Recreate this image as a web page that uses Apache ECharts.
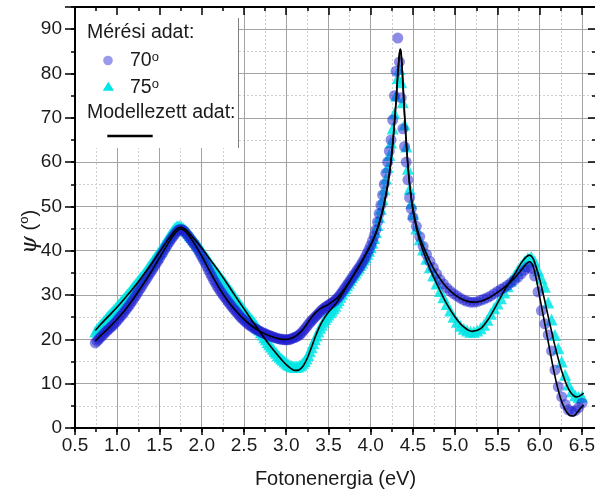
<!DOCTYPE html>
<html><head><meta charset="utf-8">
<script src="https://cdn.jsdelivr.net/npm/echarts@6/dist/echarts.min.js"></script>
<style>html,body{margin:0;padding:0;background:#fff}#c{width:595px;height:496px}</style>
</head><body><div id="c"></div>
<script>
// Measured photon energies (eV)
const energy = [
  0.74,0.76,0.78,0.80,0.82,0.84,0.86,0.88,0.90,0.92,0.94,0.96,0.98,
  1.00,1.02,1.04,1.06,1.08,1.10,1.12,1.14,1.16,1.18,1.20,1.22,1.24,1.26,1.28,
  1.30,1.32,1.34,1.36,1.38,1.40,1.42,1.44,1.46,1.48,1.50,1.52,1.54,1.56,1.58,
  1.60,1.62,1.64,1.66,1.68,1.70,1.72,1.74,1.76,1.78,1.80,1.82,1.84,1.86,1.88,
  1.90,1.92,1.94,1.96,1.98,2.00,2.02,2.04,2.06,2.08,2.10,2.12,2.14,2.16,2.18,
  2.20,2.22,2.24,2.26,2.28,2.30,2.32,2.34,2.36,2.38,2.40,2.42,2.44,2.46,2.48,
  2.50,2.52,2.54,2.56,2.58,2.60,2.62,2.64,2.66,2.68,2.70,2.72,2.74,2.76,2.78,
  2.80,2.82,2.84,2.86,2.88,2.90,2.92,2.94,2.96,2.98,3.00,3.02,3.04,3.06,3.08,
  3.10,3.12,3.14,3.16,3.18,3.20,3.22,3.24,3.26,3.28,3.30,3.32,3.34,3.36,3.38,
  3.40,3.42,3.44,3.46,3.48,3.50,3.52,3.54,3.56,3.58,3.60,3.62,3.64,3.66,3.68,
  3.70,3.72,3.74,3.76,3.78,3.80,3.82,3.84,3.86,3.88,3.90,3.92,3.94,3.96,3.98,
  4.00,4.02,4.04,4.06,4.08,4.10,4.12,4.14,4.16,4.18,
  4.20,4.22,4.24,4.26,4.28,4.30,4.32,4.34,4.36,4.38,
  4.40,4.42,4.44,4.46,4.48,4.50,
  4.54,4.58,4.62,4.66,4.70,4.74,4.78,4.82,4.86,4.90,
  4.94,4.98,5.02,5.06,5.10,5.14,5.18,5.22,5.26,5.30,
  5.34,5.38,5.42,5.46,5.50,5.54,5.58,5.62,5.66,5.70,
  5.74,5.78,5.82,5.86,5.90,5.94,5.98,6.02,6.06,6.10,
  6.14,6.18,6.22,6.26,6.30,6.34,6.38,6.42,6.46,6.50
];
// Measured psi at 70 degrees
const psi70 = [
  19.2,19.6,20.0,20.4,20.8,21.2,21.6,22.0,22.3,22.7,23.0,23.4,23.8,
  24.3,24.7,25.2,25.6,26.1,26.6,27.1,27.6,28.2,28.7,29.3,29.9,30.5,31.1,31.7,
  32.3,32.9,33.5,34.1,34.7,35.3,35.9,36.5,37.1,37.7,38.3,39.0,39.6,40.3,40.9,
  41.5,42.1,42.7,43.2,43.7,44.2,44.6,44.8,44.8,44.6,44.3,43.8,43.3,42.8,42.3,
  41.8,41.3,40.7,40.1,39.4,38.7,38.0,37.3,36.5,35.7,34.9,34.2,33.4,32.8,32.1,
  31.5,30.9,30.4,29.8,29.3,28.8,28.3,27.8,27.3,26.8,26.4,25.9,25.5,25.0,24.7,
  24.3,24.0,23.6,23.3,23.0,22.8,22.5,22.3,22.1,21.9,21.7,21.5,21.3,21.2,21.0,
  20.9,20.7,20.6,20.4,20.3,20.2,20.1,20.0,20.0,19.9,19.9,19.9,20.0,20.1,20.3,
  20.4,20.6,20.8,21.1,21.4,21.9,22.3,22.8,23.3,23.8,24.2,24.6,25.0,25.4,25.8,
  26.2,26.6,26.9,27.2,27.5,27.7,28.0,28.2,28.5,28.8,29.2,29.6,30.1,30.6,31.2,
  31.7,32.3,32.8,33.4,33.9,34.5,35.0,35.6,36.1,36.7,37.3,38.0,38.7,39.5,40.3,
  41.2,42.2,43.3,44.7,46.5,48.4,50.3,52.6,55.0,57.5,
  60.0,62.5,65.0,69.5,75.0,80.5,88.0,82.6,74.5,67.5,
  63.5,60.0,56.0,52.0,49.5,47.5,
  45.5,43.2,41.0,39.2,37.6,36.2,34.8,33.5,32.5,31.6,
  30.9,30.3,29.8,29.3,28.9,28.6,28.4,28.4,28.5,28.8,
  29.1,29.4,29.8,30.3,30.8,31.3,31.7,32.2,32.8,33.4,
  34.0,34.8,35.6,36.3,36.0,34.3,30.7,26.5,23.5,21.0,
  17.4,13.1,9.3,7.0,5.3,4.1,3.7,3.9,4.6,5.6
];
// Measured psi at 75 degrees
const psi75 = [
  21.8,22.3,22.7,23.2,23.6,24.1,24.5,25.0,25.4,25.8,26.2,26.6,27.0,
  27.5,27.9,28.4,28.8,29.3,29.7,30.2,30.6,31.1,31.6,32.1,32.5,33.0,33.5,34.0,
  34.4,35.0,35.5,36.1,36.6,37.2,37.7,38.3,38.8,39.4,39.9,40.5,41.1,41.7,42.3,
  42.9,43.5,44.1,44.6,45.1,45.4,45.5,45.5,45.4,45.1,44.8,44.4,44.0,43.5,43.1,
  42.6,42.1,41.6,41.1,40.6,40.1,39.5,39.0,38.4,37.9,37.3,36.8,36.2,35.7,35.2,
  34.7,34.2,33.7,33.2,32.7,32.1,31.6,31.0,30.5,29.9,29.4,28.8,28.3,27.7,27.2,
  26.7,26.2,25.7,25.2,24.7,24.3,23.8,23.3,22.7,22.2,21.6,21.1,20.5,20.0,19.4,
  18.9,18.4,17.9,17.4,17.0,16.5,16.1,15.7,15.4,15.0,14.7,14.4,14.2,14.0,13.9,
  13.8,13.8,13.9,14.1,14.3,14.7,15.1,15.7,16.4,17.3,18.2,19.1,20.0,20.9,21.8,
  22.6,23.3,24.0,24.6,25.1,25.6,26.1,26.5,27.1,27.6,28.3,28.9,29.6,30.3,31.0,
  31.6,32.2,32.8,33.4,34.0,34.6,35.1,35.7,36.2,36.8,37.3,38.0,38.6,39.3,40.0,
  40.8,41.8,42.9,44.2,45.8,47.6,49.5,51.6,53.9,56.3,
  58.9,61.6,64.4,67.6,71.0,75.0,79.0,81.0,78.0,73.5,
  68.5,63.5,58.5,54.0,50.8,48.3,
  45.0,42.6,40.3,38.2,36.3,34.4,32.6,30.9,29.5,28.0,
  26.5,25.1,24.0,23.1,22.4,22.0,21.7,21.7,22.0,22.5,
  23.3,24.4,25.8,27.0,28.1,29.3,30.6,32.0,33.2,34.4,
  35.6,36.6,37.6,38.3,38.6,37.6,35.6,33.8,31.9,28.3,
  24.5,21.0,18.0,15.0,12.0,9.8,8.3,7.4,7.0,7.1
];
// Model curve energies (eV)
const modelEnergy = [
  0.74,0.80,0.90,1.00,1.10,1.20,1.30,1.40,1.50,1.60,
  1.65,1.70,1.75,1.80,1.85,1.90,2.00,2.10,2.20,2.30,
  2.40,2.50,2.60,2.70,2.80,2.90,2.95,3.00,3.05,3.10,
  3.15,3.20,3.25,3.30,3.35,3.40,3.45,3.50,3.60,3.70,
  3.80,3.90,4.00,4.05,4.10,4.15,4.20,4.24,4.27,4.30,
  4.32,4.34,4.35,4.36,4.38,4.40,4.43,4.46,4.50,4.55,
  4.60,4.70,4.80,4.90,5.00,5.10,5.20,5.30,5.40,5.50,
  5.60,5.70,5.78,5.84,5.88,5.92,5.96,6.00,6.05,6.10,
  6.15,6.20,6.25,6.30,6.35,6.40,6.44,6.48,6.52
];
const model70 = [
  19.6,20.8,22.6,24.6,26.8,29.4,32.2,35.2,38.4,41.6,
  43.1,44.3,44.9,44.5,43.4,42.0,38.8,35.2,31.8,28.9,
  26.5,24.5,22.9,21.7,20.8,20.2,20.0,20.0,20.2,20.6,
  21.3,22.3,23.6,25.0,26.1,26.9,27.4,27.9,29.3,31.7,
  34.6,37.7,41.3,43.5,46.3,50.0,55.0,60.5,66.5,74.0,
  80.0,84.5,85.3,84.3,78.0,70.5,61.5,55.0,49.5,45.0,
  42.0,37.6,34.2,31.7,30.0,28.9,28.4,28.6,29.4,30.6,
  32.0,33.8,35.6,37.0,37.5,36.6,33.5,29.5,24.5,19.5,
  14.5,10.0,6.5,4.2,2.9,2.7,3.4,4.4,5.2
];
const model75 = [
  22.0,23.3,25.3,27.3,29.5,31.8,34.3,36.9,39.7,42.5,
  43.8,44.9,45.3,44.9,44.0,42.9,40.6,38.0,35.4,32.6,
  29.7,26.9,24.1,21.4,18.8,16.4,15.3,14.3,13.5,13.0,
  13.1,14.0,15.8,18.3,20.9,23.1,24.8,26.1,28.4,31.4,
  34.6,37.8,41.3,43.4,46.1,49.7,54.6,60.0,66.0,73.5,
  79.5,84.5,85.5,84.6,78.5,71.0,62.0,55.0,49.0,44.3,
  41.0,36.0,31.8,28.0,25.0,22.8,21.8,22.4,24.8,28.2,
  31.6,34.6,37.2,38.6,39.0,38.3,36.2,33.5,29.5,25.2,
  21.0,17.0,13.5,10.6,8.5,7.3,7.0,7.3,7.9
];
const seriesNames = ['70°', '75°', 'Modell 70°', 'Modell 75°'];
const xTickStep = 0.5, yTickStep = 10;

const FONT = 'Liberation Sans, Arial, sans-serif';
const chart = echarts.init(document.getElementById('c'), null, {renderer: 'canvas'});
const isMult = (v, s) => Math.abs(v / s - Math.round(v / s)) < 1e-6;
const axisLineStyle = {color: '#000', width: 2};
const tickStyle = {color: '#000', width: 1.5};

const option = {
  animation: false,
  textStyle: {fontFamily: FONT},
  grid: {left: 75, top: 7, right: -1, bottom: 68, containLabel: false, outerBoundsMode: 'none'},
  xAxis: [
    {type: 'value', min: 0.5, max: 6.666, interval: xTickStep, position: 'bottom', z: 1,
     axisLine: {show: true, onZero: false, lineStyle: axisLineStyle},
     axisTick: {show: true, length: 7, lineStyle: tickStyle},
     axisLabel: {margin: 8, fontSize: 19, color: '#1a1a1a', fontFamily: FONT,
       formatter: v => isMult(v, xTickStep) ? v.toFixed(1) : ''},
     splitLine: {show: true, lineStyle: {color: '#a3a3a3', width: 1}},
     name: 'Fotonenergia (eV)', nameLocation: 'middle', nameGap: 41,
     nameTextStyle: {fontSize: 20, color: '#1a1a1a', fontFamily: FONT}},
    {type: 'value', min: 0.5, max: 6.666, interval: 0.25, position: 'bottom', z: 0,
     axisLine: {show: false, onZero: false},
     axisTick: {show: true, length: 4, lineStyle: tickStyle},
     axisLabel: {show: false},
     splitLine: {show: true, lineStyle: {color: '#cfcfcf', width: 1, type: [2, 2]}}},
    {type: 'value', min: 0.5, max: 6.666, interval: xTickStep, position: 'top', z: 6,
     axisLine: {show: true, onZero: false, lineStyle: axisLineStyle},
     axisTick: {show: true, inside: true, length: 8, lineStyle: tickStyle},
     axisLabel: {show: false}, splitLine: {show: false}},
    {type: 'value', min: 0.5, max: 6.666, interval: 0.25, position: 'top', z: 6,
     axisLine: {show: false, onZero: false},
     axisTick: {show: true, inside: true, length: 4, lineStyle: tickStyle},
     axisLabel: {show: false}, splitLine: {show: false}}
  ],
  yAxis: [
    {type: 'value', min: 0, max: 95, interval: yTickStep, position: 'left', z: 1,
     axisLine: {show: true, onZero: false, lineStyle: axisLineStyle},
     axisTick: {show: true, length: 10, lineStyle: tickStyle},
     axisLabel: {margin: 13, fontSize: 19, color: '#1a1a1a', fontFamily: FONT,
       formatter: v => isMult(v, yTickStep) ? String(v) : ''},
     splitLine: {show: true, lineStyle: {color: '#a3a3a3', width: 1}}},
    {type: 'value', min: 0, max: 95, interval: 5, position: 'left', z: 0,
     axisLine: {show: false, onZero: false},
     axisTick: {show: true, length: 4, lineStyle: tickStyle},
     axisLabel: {show: false},
     splitLine: {show: true, lineStyle: {color: '#cfcfcf', width: 1, type: [2, 2]}}},
    {type: 'value', min: 0, max: 95, interval: yTickStep, position: 'right', z: 6,
     axisLine: {show: true, onZero: false, lineStyle: axisLineStyle},
     axisTick: {show: true, inside: true, length: 8, lineStyle: tickStyle},
     axisLabel: {show: false}, splitLine: {show: false}},
    {type: 'value', min: 0, max: 95, interval: 5, position: 'right', z: 6,
     axisLine: {show: false, onZero: false},
     axisTick: {show: true, inside: true, length: 4, lineStyle: tickStyle},
     axisLabel: {show: false}, splitLine: {show: false}}
  ],
  series: [
    {type: 'scatter', name: seriesNames[1], xAxisIndex: 0, yAxisIndex: 0, z: 2,
     symbol: 'triangle', symbolSize: 12,
     itemStyle: {color: '#00e5e5', opacity: 0.85},
     data: energy.map((e, i) => [e, psi75[i]])},
    {type: 'scatter', name: seriesNames[0], xAxisIndex: 0, yAxisIndex: 0, z: 2,
     symbol: 'circle', symbolSize: 11,
     itemStyle: {color: '#1c1cd0', opacity: 0.5},
     data: energy.map((e, i) => [e, psi70[i]])},
    {type: 'line', name: seriesNames[3], xAxisIndex: 0, yAxisIndex: 0, z: 3,
     symbol: 'none', smooth: 0.3, lineStyle: {color: '#000', width: 1.6},
     data: modelEnergy.map((e, i) => [e, model75[i]])},
    {type: 'line', name: seriesNames[2], xAxisIndex: 0, yAxisIndex: 0, z: 3,
     symbol: 'none', smooth: 0.3, lineStyle: {color: '#000', width: 1.6},
     data: modelEnergy.map((e, i) => [e, model70[i]])}
  ],
  graphic: [
    {type: 'rect', z: 4, shape: {x: 76, y: 8, width: 162, height: 140}, style: {fill: '#fff'}},
    {type: 'line', z: 5, shape: {x1: 238.5, y1: 18, x2: 238.5, y2: 148}, style: {stroke: '#808080', lineWidth: 1}},
    {type: 'text', z: 5, x: 87, y: 33, style: {text: 'Mérési adat:', font: '19.5px ' + FONT, fill: '#1a1a1a', verticalAlign: 'middle'}},
    {type: 'circle', z: 5, shape: {cx: 108, cy: 60.5, r: 4.8}, style: {fill: '#9a9aec'}},
    {type: 'text', z: 5, x: 130, y: 61, style: {text: '{a|70}{s|o}', verticalAlign: 'middle', fill: '#1a1a1a',
      rich: {a: {fontSize: 19.5, fontFamily: FONT, lineHeight: 20}, s: {fontSize: 13, fontFamily: FONT, lineHeight: 13, verticalAlign: 'top'}}}},
    {type: 'polygon', z: 5, shape: {points: [[102.7, 90.7], [114, 90.7], [108.35, 81.7]]}, style: {fill: '#00e5e5'}},
    {type: 'text', z: 5, x: 130, y: 88, style: {text: '{a|75}{s|o}', verticalAlign: 'middle', fill: '#1a1a1a',
      rich: {a: {fontSize: 19.5, fontFamily: FONT, lineHeight: 20}, s: {fontSize: 13, fontFamily: FONT, lineHeight: 13, verticalAlign: 'top'}}}},
    {type: 'text', z: 5, x: 87, y: 113, style: {text: 'Modellezett adat:', font: '19.5px ' + FONT, fill: '#1a1a1a', verticalAlign: 'middle'}},
    {type: 'line', z: 5, shape: {x1: 107.3, y1: 136, x2: 152.7, y2: 136}, style: {stroke: '#000', lineWidth: 2.5}},
    {type: 'text', z: 5, x: 30, y: 232, rotation: Math.PI / 2,
     style: {text: '{p|ψ} ({s|o})', align: 'center', verticalAlign: 'middle', fill: '#1a1a1a', font: '20px ' + FONT,
       rich: {p: {fontSize: 23, fontFamily: 'DejaVu Serif', fontStyle: 'italic', lineHeight: 24},
              s: {fontSize: 13, fontFamily: FONT, lineHeight: 13, verticalAlign: 'top'}}}}
  ]
};
chart.setOption(option);
</script>
</body></html>
